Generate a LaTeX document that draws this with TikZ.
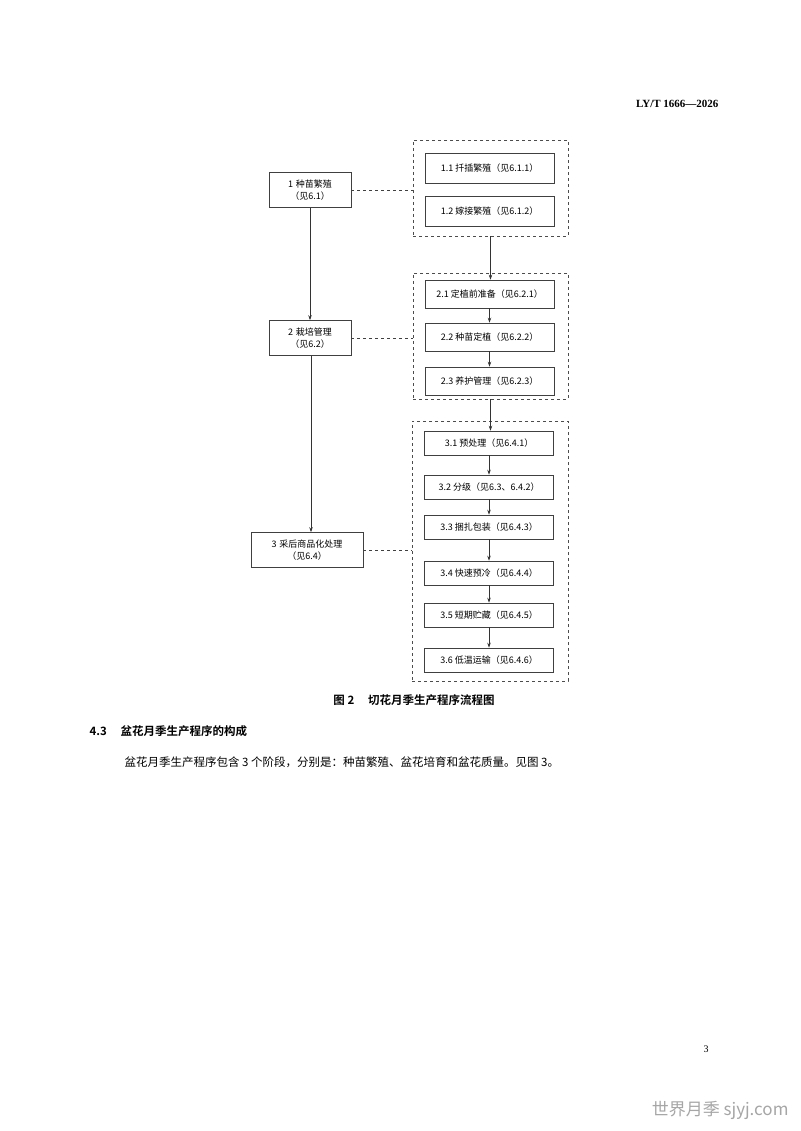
\documentclass[tikz,border=0pt]{standalone}
\usepackage{fontspec}
\setmainfont{Liberation Serif}
\newfontfamily\cjk{Noto Sans CJK SC}
\newfontfamily\cjkb{Noto Sans CJK SC Bold}
\usetikzlibrary{arrows.meta}
\begin{document}
\begin{tikzpicture}[x=1pt,y=-1pt,
  box/.style={draw=black!75,line width=0.6pt,minimum height=24pt,inner sep=1pt,font=\cjk\fontsize{9}{12}\selectfont,align=center},
  lbox/.style={box,minimum height=35pt,text width=80pt},
  rbox/.style={box,minimum width=129pt},
  grp/.style={draw=black!70,dashed,line width=0.6pt},
  link/.style={draw=black!75,dashed,line width=0.6pt},
  arr/.style={draw=black!80,line width=0.8pt,-{Stealth[length=5pt,width=3.5pt]}}]
\useasboundingbox[fill=white] (0,0) rectangle (800,1131);
\node[font=\bfseries\fontsize{11}{13}\selectfont,anchor=east] (hdr) at (722,104) {LY/T 1666—2026};
% left
\node[lbox,text width=80pt] (b1) at (310,190) {1 种苗繁殖\\（见6.1）};
\node[lbox,text width=80pt] (b2) at (310,338) {2 栽培管理\\（见6.2）};
\node[lbox,text width=110pt] (b3) at (307,550) {3 采后商品化处理\\（见6.4）};
% groups
\node[grp,minimum width=155pt,minimum height=96pt] (g1) at (490.5,188) {};
\node[grp,minimum width=155pt,minimum height=126pt] (g2) at (490.5,336) {};
\node[grp,minimum width=156pt,minimum height=260pt] (g3) at (490,551) {};
\node[rbox,minimum height=30pt] (a11) at (489.5,168) {1.1 扦插繁殖（见6.1.1）};
\node[rbox,minimum height=30pt] (a12) at (489.5,211) {1.2 嫁接繁殖（见6.1.2）};
\node[rbox,minimum height=28pt] (a21) at (489.5,294) {2.1 定植前准备（见6.2.1）};
\node[rbox,minimum height=28pt] (a22) at (489.5,337) {2.2 种苗定植（见6.2.2）};
\node[rbox,minimum height=28pt] (a23) at (489.5,381) {2.3 养护管理（见6.2.3）};
\node[rbox] (c1) at (489,443) {3.1 预处理（见6.4.1）};
\node[rbox] (c2) at (489,487) {3.2 分级（见6.3、6.4.2）};
\node[rbox] (c3) at (489,527) {3.3 捆扎包装（见6.4.3）};
\node[rbox] (c4) at (489,573) {3.4 快速预冷（见6.4.4）};
\node[rbox] (c5) at (489,615) {3.5 短期贮藏（见6.4.5）};
\node[rbox] (c6) at (489,660) {3.6 低温运输（见6.4.6）};
% connectors
\draw[link] (b1.east) -- (b1.east -| g1.west);
\draw[link] (b2.east) -- (b2.east -| g2.west);
\draw[link] (b3.east) -- (b3.east -| g3.west);
\draw[arr] (b1.south) -- (b2.north);
\draw[arr] ([xshift=1pt]b2.south) -- ([xshift=1pt]b2.south |- b3.north);
\draw[arr] (g1.south) -- (g1.south |- a21.north);
\draw[arr] (a21) -- (a22);
\draw[arr] (a22) -- (a23);
\draw[arr] (g2.south) -- (g2.south |- c1.north);
\draw[arr] (c1) -- (c2);
\draw[arr] (c2) -- (c3);
\draw[arr] (c3) -- (c4);
\draw[arr] (c4) -- (c5);
\draw[arr] (c5) -- (c6);
% texts
\node[font=\cjkb\fontsize{11.5}{14}\selectfont] (cap) at (414,700) {图 2\hspace{1.2em}切花月季生产程序流程图};
\node[font=\cjkb\fontsize{11.5}{14}\selectfont,anchor=west] (sec) at (86,731) {4.3\hspace{1.2em}盆花月季生产程序的构成};
\node[font=\cjk\fontsize{11.5}{14}\selectfont,anchor=west] (par) at (121,762) {盆花月季生产程序包含 3 个阶段，分别是：种苗繁殖、盆花培育和盆花质量。见图 3。};
\node[font=\fontsize{10}{12}\selectfont] (pg) at (706,1049) {3};
\node[font=\cjk\fontsize{17}{20}\selectfont,text=black!35,anchor=east] (wm) at (792,1110) {世界月季 sjyj.com};
\end{tikzpicture}
\end{document}
